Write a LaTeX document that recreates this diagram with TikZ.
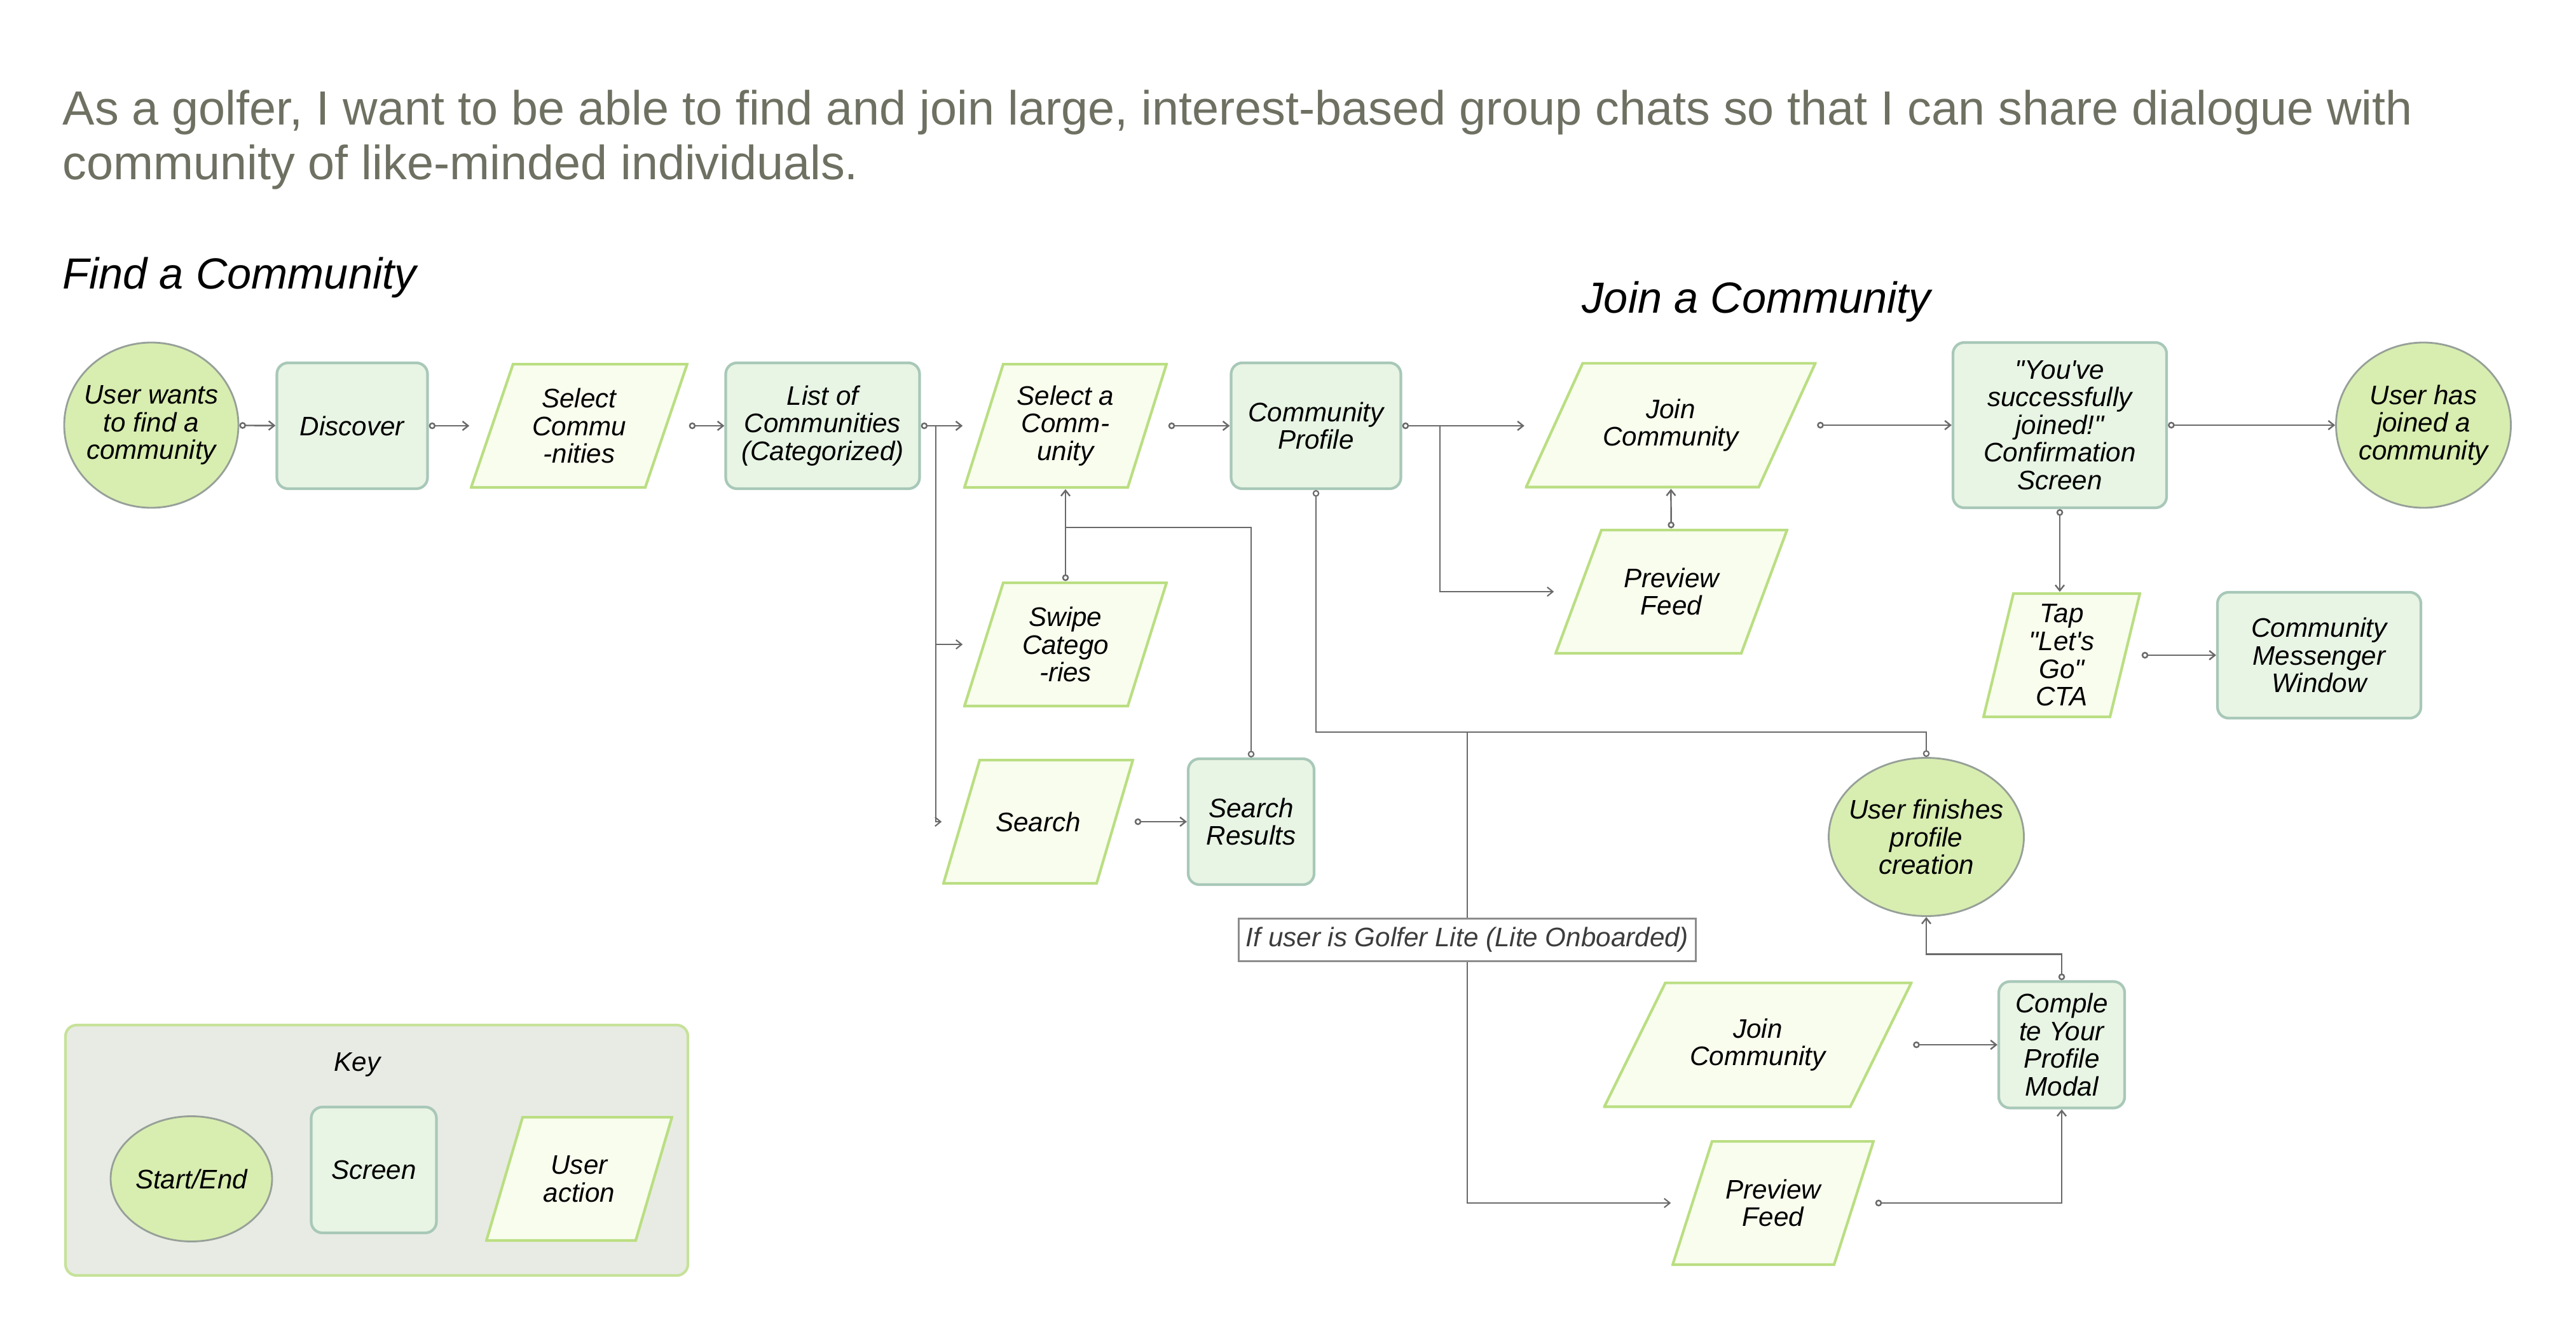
\documentclass[tikz,border=0pt]{standalone}
\usepackage{fontspec}
\setmainfont{Liberation Sans}
\usepackage{tikz}
\usetikzlibrary{arrows.meta, shapes.geometric}
\definecolor{startfill}{RGB}{216, 237, 176}
\definecolor{startline}{RGB}{150, 160, 152}
\definecolor{screenfill}{RGB}{232, 244, 228}
\definecolor{screenline}{RGB}{168, 200, 184}
\definecolor{actfill}{RGB}{248, 253, 238}
\definecolor{actline}{RGB}{186, 222, 130}
\definecolor{keyfill}{RGB}{232, 235, 228}
\definecolor{keyline}{RGB}{198, 226, 154}
\definecolor{connline}{RGB}{105, 105, 105}
\definecolor{titlegray}{RGB}{110, 113, 98}
\definecolor{liteline}{RGB}{140, 140, 140}
\definecolor{litetext}{RGB}{60, 60, 60}
\newcommand{\boxfont}{\itshape\fontsize{12}{12.4}\selectfont}

\begin{document}
\begin{tikzpicture}[
  dims/.style 2 args={minimum width=#1cm, minimum height=#2cm},
  startend/.style={ellipse, fill=startfill, draw=startline, line width=0.8pt,
    inner xsep=-0.4cm, inner ysep=-0.3cm, align=center, font=\boxfont},
  screen/.style={rectangle, rounded corners=5pt, fill=screenfill, draw=screenline,
    line width=1.2pt, inner sep=0pt, align=center, font=\boxfont},
  useract/.style={rectangle, inner sep=0pt, align=center, font=\boxfont,
    path picture={
      \path[fill=actfill, draw=actline, line width=1.2pt]
        ([xshift=#1, yshift=-0.6pt]path picture bounding box.north west)
        -- ([xshift=-0.6pt, yshift=-0.6pt]path picture bounding box.north east)
        -- ([xshift=-#1, yshift=0.6pt]path picture bounding box.south east)
        -- ([xshift=0.6pt, yshift=0.6pt]path picture bounding box.south west) -- cycle;
    }},
  liteflag/.style={rectangle, fill=white, draw=liteline, line width=0.8pt,
    text=litetext, font=\itshape\fontsize{12}{14}\selectfont},
  flow/.style={draw=connline, line width=0.7pt,
    {Circle[open, fill=white, length=3pt, width=3pt]}-{Straight Barb[length=2.5pt, width=4pt]}},
  arrowline/.style={draw=connline, line width=0.6pt, -{Straight Barb[length=2.5pt, width=4pt]}},
  tailline/.style={draw=connline, line width=0.6pt, {Circle[open, fill=white, length=3pt, width=3pt]}-},
  twotail/.style={draw=connline, line width=0.6pt,
    {Circle[open, fill=white, length=3pt, width=3pt]}-{Circle[open, fill=white, length=3pt, width=3pt]}},
  plainline/.style={draw=connline, line width=0.6pt}
]
  \useasboundingbox (0, 0) rectangle (40.52, -21.07);

  % headings
  \node[anchor=west, align=left, inner sep=0pt, text=titlegray, font=\fontsize{21.5}{24.4}\selectfont] (story) at (0.98, -2.20)
    {As a golfer, I want to be able to find and join large, interest-based group chats so that I can share dialogue with\\
     community of like-minded individuals.};
  \node[anchor=west, inner sep=0pt, font=\itshape\fontsize{19.5}{22}\selectfont] (findhead) at (0.98, -4.37) {Find a Community};
  \node[anchor=west, inner sep=0pt, font=\itshape\fontsize{19.5}{22}\selectfont] (joinhead) at (24.88, -4.75) {Join a Community};

  % find a community
  \node[startend, dims={2.74}{2.60}] (start) at (2.38, -6.69) {User wants\\to find a\\community};
  \node[screen, dims={2.37}{1.98}] (discover) at (5.54, -6.70) {Discover};
  \node[useract=0.68cm, dims={3.44}{1.98}] (selcomm) at (9.11, -6.70) {Select\\Commu\\-nities};
  \node[screen, dims={3.05}{1.98}] (list) at (12.94, -6.70) {List of\\Communities\\(Categorized)};
  \node[useract=0.63cm, dims={3.22}{1.98}] (selone) at (16.76, -6.70) {Select a\\Comm-\\unity};
  \node[useract=0.63cm, dims={3.22}{1.98}] (swipe) at (16.76, -10.14) {Swipe\\Catego\\-ries};
  \node[useract=0.59cm, dims={3.02}{1.98}] (search) at (16.33, -12.93) {Search};
  \node[screen, dims={1.98}{1.98}] (results) at (19.68, -12.93) {Search\\Results};
  \node[screen, dims={2.67}{1.98}] (profile) at (20.70, -6.70) {Community\\Profile};

  % join a community
  \node[useract=0.91cm, dims={4.59}{1.99}] (join) at (26.28, -6.69) {Join\\Community};
  \node[useract=0.74cm, dims={3.68}{1.98}] (preview) at (26.29, -9.31) {Preview\\Feed};
  \node[screen, dims={3.36}{2.60}] (confirm) at (32.40, -6.69)
    {\textquotedbl You\textquotesingle ve\\successfully\\joined!\textquotedbl\\Confirmation\\Screen};
  \node[startend, dims={2.75}{2.60}] (end) at (38.12, -6.69) {User has\\joined a\\community};
  \node[useract=0.49cm, dims={2.50}{1.98}] (tap) at (32.43, -10.31)
    {Tap\\\textquotedbl Let\textquotesingle s\\Go\textquotedbl\\CTA};
  \node[screen, dims={3.20}{1.98}] (messenger) at (36.48, -10.31) {Community\\Messenger\\Window};

  % golfer lite path
  \node[startend, dims={3.07}{2.49}] (finish) at (30.30, -13.17) {User finishes\\profile\\creation};
  \node[liteflag, dims={6.92}{0.67}] (lite) at (23.08, -14.79) {If user is Golfer Lite (Lite Onboarded)};
  \node[useract=0.98cm, dims={4.87}{1.99}] (join2) at (27.65, -16.44) {Join\\Community};
  \node[screen, dims={1.98}{1.99}] (modal) at (32.43, -16.44) {Comple\\te Your\\Profile\\Modal};
  \node[useract=0.64cm, dims={3.20}{1.98}] (preview2) at (27.89, -18.93) {Preview\\Feed};

  % key
  \node[rectangle, rounded corners=5pt, fill=keyfill, draw=keyline, line width=1.2pt,
    dims={9.79}{3.94}] (key) at (5.925, -18.10) {};
  \node[font=\boxfont] (keytitle) at (5.62, -16.75) {Key};
  \node[startend, dims={2.54}{1.97}] (keystart) at (3.01, -18.55) {Start/End};
  \node[screen, dims={1.97}{1.98}] (keyscreen) at (5.88, -18.41) {Screen};
  \node[useract=0.59cm, dims={2.96}{1.98}] (keyact) at (9.11, -18.55) {User\\action};

  \coordinate (listsplit) at (14.72, -6.70);
  \coordinate (selmerge) at (16.76, -8.30);
  \coordinate (profsplit) at (22.65, -6.70);
  \coordinate (litesplit) at (23.08, -11.52);

  % connectors
  \draw[flow] (start) -- (discover);
  \draw[flow] (discover) -- (selcomm);
  \draw[flow] (selcomm) -- (list);
  \draw[flow] (list) -- (selone);
  \draw[arrowline] (listsplit) |- (swipe);
  \draw[arrowline] (listsplit) |- (search);
  \draw[flow] (swipe) -- (selone);
  \draw[tailline] (results) |- (selmerge);
  \draw[flow] (search) -- (results);
  \draw[flow] (selone) -- (profile);
  \draw[flow] (profile.east) -- (profile.east -| join.west);
  \draw[arrowline] (profsplit) |- (preview);
  \draw[flow] (preview) -- (join);
  \draw[flow] (join) -- (confirm);
  \draw[flow] (confirm) -- (end);
  \draw[flow] (confirm.south) -- (confirm.south |- tap.north);
  \draw[flow] (tap) -- (messenger);
  \draw[twotail] (profile.south) |- (litesplit) -| (finish.north);
  \draw[plainline] (litesplit) -- (lite);
  \draw[arrowline] (lite) |- (preview2);
  \draw[flow] (join2) -- (modal);
  \draw[flow] (preview2) -| (modal);
  \draw[flow] (modal.north) -- ++(0, 0.41) -| (finish.south);

\end{tikzpicture}
\end{document}
